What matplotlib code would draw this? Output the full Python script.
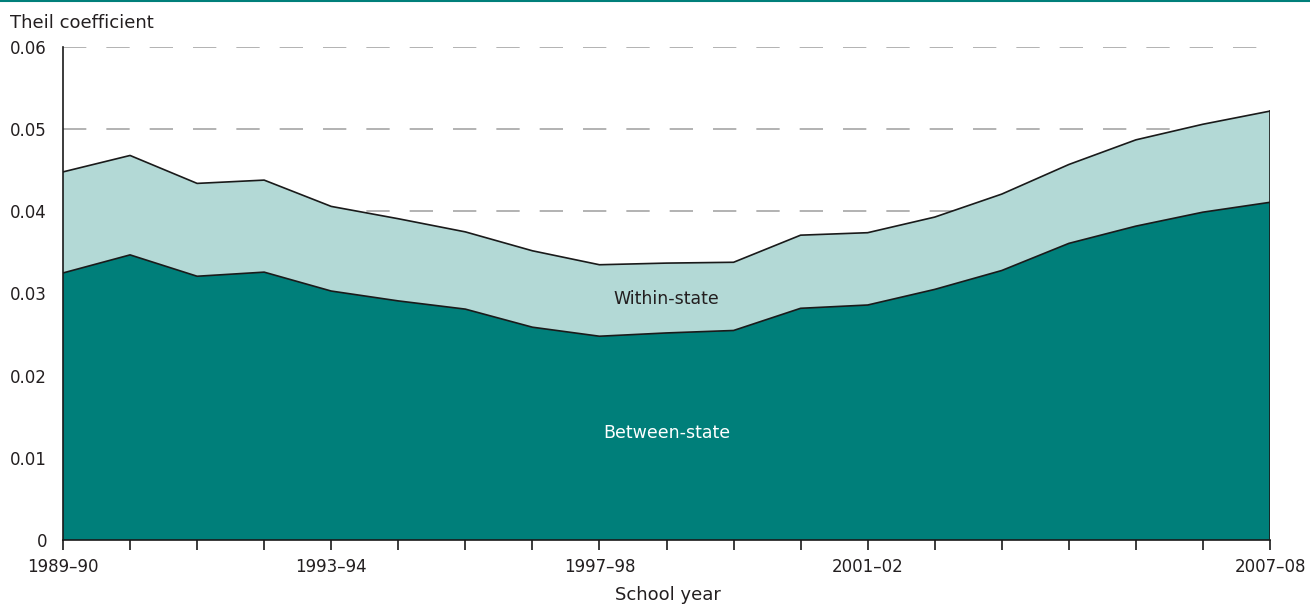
import matplotlib
matplotlib.use("Agg")
import matplotlib.pyplot as plt
import numpy as np

years = ["1989–90", "1990–91", "1991–92", "1992–93", "1993–94", "1994–95", "1995–96",
         "1996–97", "1997–98", "1998–99", "1999–2000", "2000–01", "2001–02", "2002–03",
         "2003–04", "2004–05", "2005–06", "2006–07", "2007–08"]
between_state = [0.0325, 0.0347, 0.0321, 0.0326, 0.0303, 0.0291, 0.0281, 0.0259, 0.0248,
                 0.0252, 0.0255, 0.0282, 0.0286, 0.0305, 0.0328, 0.0361, 0.0382, 0.0399, 0.0411]
total = [0.0448, 0.0468, 0.0434, 0.0438, 0.0406, 0.0391, 0.0375, 0.0352, 0.0335,
         0.0337, 0.0338, 0.0371, 0.0374, 0.0393, 0.0421, 0.0457, 0.0487, 0.0506, 0.0522]
within_state = [t - b for t, b in zip(total, between_state)]
labeled_years = ["1989–90", "1993–94", "1997–98", "2001–02", "2007–08"]
y_ticks = [0, 0.01, 0.02, 0.03, 0.04, 0.05, 0.06]
y_tick_labels = ["0", "0.01", "0.02", "0.03", "0.04", "0.05", "0.06"]

plt.rcParams['font.family'] = ['DejaVu Sans']
dark = "#007F7A"
light = "#B3D9D6"
txt = "#231F20"

fig = plt.figure(figsize=(13.10, 6.05), dpi=100)
ax = fig.add_axes([63/1310, 65/605, (1270-63)/1310, (540-47)/605])

x = np.arange(len(years))
ax.stackplot(x, between_state, within_state, colors=[dark, light], zorder=2)
ax.plot(x, between_state, color="#1a1a1a", lw=1.2, zorder=3)
ax.plot(x, total, color="#1a1a1a", lw=1.2, zorder=3)
ax.plot([x[-1], x[-1]], [0, total[-1]], color="#1a1a1a", lw=1.2, zorder=3)

for yv in y_ticks[1:]:
    ax.axhline(yv, color="#A6A6A6", lw=1.2, dashes=(14, 12), zorder=1)

ax.set_xlim(0, len(years) - 1)
ax.set_ylim(0, 0.06)
ax.set_yticks(y_ticks)
ax.set_yticklabels(y_tick_labels, fontsize=12, color=txt)
ax.tick_params(axis='y', length=0, pad=11.5)
ax.set_xticks(x)
ax.set_xticklabels([y if y in labeled_years else "" for y in years], fontsize=12, color=txt)
ax.tick_params(axis='x', length=7, width=1.2, direction='out', color="#1a1a1a", pad=6)

for s in ["top", "right"]:
    ax.spines[s].set_visible(False)
for s in ["left", "bottom"]:
    ax.spines[s].set_color("#1a1a1a")
    ax.spines[s].set_linewidth(1.2)
    ax.spines[s].set_zorder(4)

ax.text(9, 0.0293, "Within-state", ha="center", va="center", fontsize=12.5, color=txt, zorder=5)
ax.text(9, 0.0130, "Between-state", ha="center", va="center", fontsize=12.5, color="white", zorder=5)

fig.text(10/1310, 1 - 23/605, "Theil coefficient", ha="left", va="center", fontsize=13, color=txt)
fig.text(668/1310, 1 - 595/605, "School year", ha="center", va="center", fontsize=13, color=txt)
fig.add_artist(plt.Line2D([0, 1], [1 - 0.8/605, 1 - 0.8/605], color=dark, lw=1.5, transform=fig.transFigure))

fig.savefig("out.png", dpi=100)
